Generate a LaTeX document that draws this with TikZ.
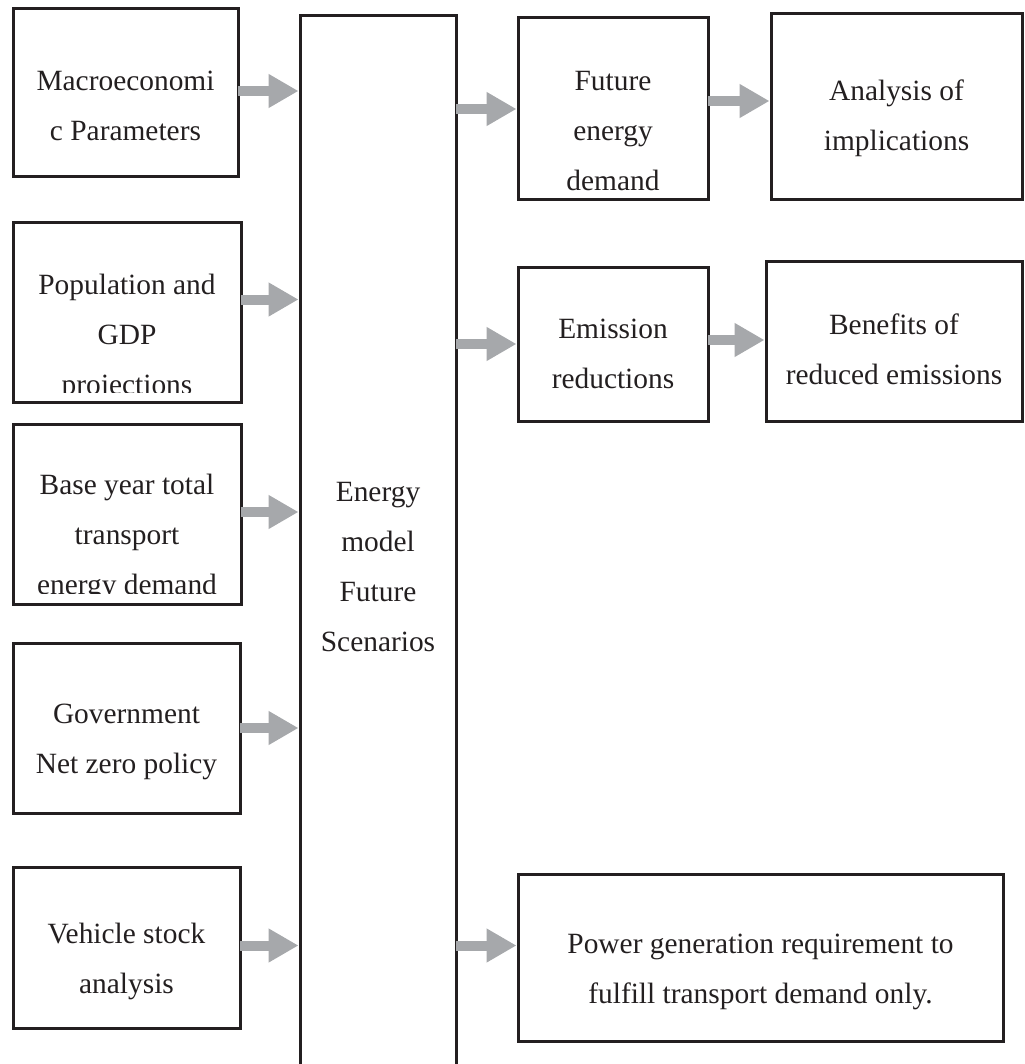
\documentclass[tikz,border=0pt]{standalone}
\usepackage{fontspec}
\setmainfont{Liberation Serif}
\usepackage{tikz}
\usetikzlibrary{arrows.meta}
\definecolor{boxline}{RGB}{35,31,32}
\definecolor{flowgray}{RGB}{166,168,171}
\newcommand{\boxfont}{\fontsize{14.7pt}{25pt}\selectfont}

\begin{document}
\begin{tikzpicture}[
  x=0.5pt, y=-0.5pt,
  box/.style={draw=boxline, line width=1.5pt, inner sep=0pt, outer sep=0pt},
  lbl/.style={anchor=base, align=center, font=\boxfont, text=boxline},
  flow/.style={draw=flowgray, line width=5pt,
    -{Triangle[length=15pt,width=16pt]}, shorten >=0.75pt},
  ]
  \useasboundingbox (0,0) rectangle (1024,1064);
  % Inputs
  \node[box, minimum width=112.5pt, minimum height=84pt]  (macro) at (125.5,93) {};
  \node[box, minimum width=114pt,   minimum height=89.5pt] (pop)   at (127,312.5) {};
  \node[box, minimum width=114pt,   minimum height=90pt]  (base)  at (127,514) {};
  \node[box, minimum width=113.5pt, minimum height=85pt]  (gov)   at (126.5,728) {};
  \node[box, minimum width=113.5pt, minimum height=80.5pt] (veh)  at (126.5,947.5) {};
  \node[lbl] (macro-t) at (125.5,141) {Macroeconomi\\c Parameters};
  \begin{scope}
    \clip (13,223) rectangle (241,392);
    \node[lbl] (pop-t) at (127,394) {Population and\\GDP\\projections};
  \end{scope}
  \begin{scope}
    \clip (13,424) rectangle (241,593);
    \node[lbl] (base-t) at (127,594) {Base year total\\transport\\energy demand};
  \end{scope}
  \node[lbl] (gov-t) at (126.5,773) {Government\\Net zero policy};
  \node[lbl] (veh-t) at (126.5,993) {Vehicle stock\\analysis};
  % Model
  \node[box, minimum width=78pt, minimum height=529.5pt] (model) at (378,545.5) {};
  \node[lbl] (model-t) at (378,651) {Energy\\model\\Future\\Scenarios};
  % Outputs
  \node[box, minimum width=95pt,    minimum height=91pt] (fut) at (613,109) {};
  \node[box, minimum width=125.5pt, minimum height=93pt] (ana) at (896.5,107) {};
  \node[box, minimum width=95pt,    minimum height=77pt] (emi) at (613,344) {};
  \node[box, minimum width=128pt,   minimum height=80pt] (ben) at (894,341) {};
  \node[box, minimum width=242.5pt, minimum height=83.5pt] (pow) at (760.5,957.5) {};
  \node[lbl] (fut-t) at (613,191) {Future\\energy\\demand};
  \node[lbl] (ana-t) at (896.5,151) {Analysis of\\implications};
  \node[lbl] (emi-t) at (613,388) {Emission\\reductions};
  \node[lbl] (ben-t) at (894,384) {Benefits of\\reduced emissions};
  \node[lbl] (pow-t) at (760.5,1003) {Power generation requirement to\\fulfill transport demand only.};
  % Arrows into the model
  \draw[flow] ([yshift=1pt]macro.east) -- ([yshift=1pt]macro.east -| model.west);
  \draw[flow] ([yshift=6.5pt]pop.east) -- ([yshift=6.5pt]pop.east -| model.west);
  \draw[flow] ([yshift=1pt]base.east) -- ([yshift=1pt]base.east -| model.west);
  \draw[flow] (gov.east) -- (gov.east -| model.west);
  \draw[flow] ([yshift=1pt]veh.east) -- ([yshift=1pt]veh.east -| model.west);
  % Arrows out of the model
  \draw[flow] (model.east |- fut.west) -- (fut.west);
  \draw[flow] (model.east |- emi.west) -- (emi.west);
  \draw[flow] ([yshift=6pt]model.east |- pow.west) -- ([yshift=6pt]pow.west);
  \draw[flow] ([yshift=4pt]fut.east) -- ([yshift=4pt]fut.east -| ana.west);
  \draw[flow] ([yshift=2pt]emi.east) -- ([yshift=2pt]emi.east -| ben.west);
\end{tikzpicture}
\end{document}
